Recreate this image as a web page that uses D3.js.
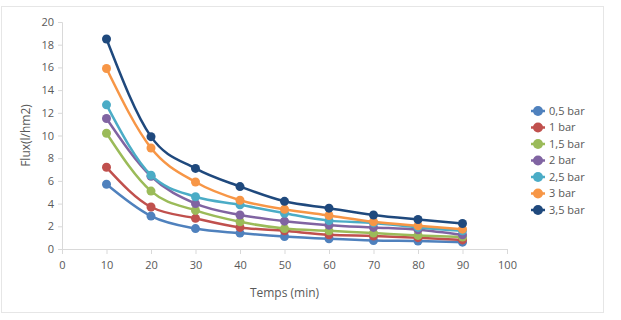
<!DOCTYPE html>
<html>
<head>
<meta charset="utf-8">
<script src="https://cdn.jsdelivr.net/npm/d3@7"></script>
<style>
  body { margin: 0; background: #fff; }
  text { font-family: "Open Sans", "DejaVu Sans", sans-serif; }
</style>
</head>
<body>
<div id="chart"></div>
<script>
var w = 621;
var h = 320;

var margin = { top: 22, bottom: 71, left: 62, right: 114 };
var width = w - margin.left - margin.right;
var height = h - margin.top - margin.bottom;

// temps (min)
var temps = [10, 20, 30, 40, 50, 60, 70, 80, 90];

var seriesNames = ["0,5 bar", "1 bar", "1,5 bar", "2 bar", "2,5 bar", "3 bar", "3,5 bar"];
var colors = ["#4F81BD", "#C0504D", "#9BBB59", "#8064A2", "#4BACC6", "#F79646", "#1F497D"];

var flux05 = [5.7, 2.9, 1.8, 1.4, 1.1, 0.9, 0.75, 0.7, 0.6];
var flux1  = [7.2, 3.7, 2.7, 1.9, 1.6, 1.25, 1.15, 1.0, 0.8];
var flux15 = [10.2, 5.1, 3.4, 2.4, 1.8, 1.6, 1.4, 1.2, 1.05];
var flux2  = [11.5, 6.4, 4.0, 3.0, 2.45, 2.1, 1.9, 1.7, 1.25];
var flux25 = [12.7, 6.5, 4.6, 3.9, 3.15, 2.5, 2.3, 1.9, 1.6];
var flux3  = [15.9, 8.9, 5.9, 4.3, 3.5, 2.95, 2.4, 2.05, 1.75];
var flux35 = [18.5, 9.9, 7.1, 5.5, 4.2, 3.6, 3.0, 2.6, 2.25];

var xTicks = [0, 10, 20, 30, 40, 50, 60, 70, 80, 90, 100];
var yTicks = [0, 2, 4, 6, 8, 10, 12, 14, 16, 18, 20];

var allFlux = [flux05, flux1, flux15, flux2, flux25, flux3, flux35];
var series = seriesNames.map(function (name, i) {
  return {
    name: name,
    color: colors[i],
    values: temps.map(function (t, j) { return { t: t, v: allFlux[i][j] }; })
  };
});

var x = d3.scaleLinear().domain([0, 100]).range([0, width]);
var y = d3.scaleLinear().domain([0, 20]).range([height, 0]);

var svg = d3.select("#chart").append("svg")
  .attr("width", w)
  .attr("height", h);

// outer chart frame
svg.append("rect")
  .attr("x", 1.5).attr("y", 6.5)
  .attr("width", 602).attr("height", 306)
  .attr("fill", "#fff")
  .attr("stroke", "#e6e6e6");

var chart = svg.append("g").attr("transform", "translate(" + margin.left + "," + margin.top + ")");

var yAxis = chart.append("g")
  .call(d3.axisLeft(y).tickValues(yTicks).tickSize(4).tickPadding(4));
var xAxis = chart.append("g")
  .attr("transform", "translate(0," + height + ")")
  .call(d3.axisBottom(x).tickValues(xTicks).tickSize(5).tickPadding(7));

[xAxis, yAxis].forEach(function (a) {
  a.select(".domain").attr("stroke", "#d9d9d9");
  a.selectAll(".tick line").attr("stroke", "#d9d9d9");
  a.selectAll(".tick text")
    .attr("fill", "#595959")
    .style("font-size", "11px")
    .style("font-family", "'Open Sans', sans-serif");
});

var line = d3.line()
  .curve(d3.curveMonotoneX)
  .x(function (d) { return x(d.t); })
  .y(function (d) { return y(d.v); });

var g = chart.selectAll(".serie")
  .data(series)
  .join("g")
  .attr("class", "serie");

g.append("path")
  .attr("d", function (d) { return line(d.values); })
  .attr("fill", "none")
  .attr("stroke", function (d) { return d.color; })
  .attr("stroke-width", 2.5);

g.selectAll("circle")
  .data(function (d) { return d.values.map(function (v) { v.color = d.color; return v; }); })
  .join("circle")
  .attr("cx", function (d) { return x(d.t); })
  .attr("cy", function (d) { return y(d.v); })
  .attr("r", 4.5)
  .attr("fill", function (d) { return d.color; });

// axis titles
svg.append("text")
  .attr("transform", "translate(30," + (margin.top + height / 2) + ") rotate(-90)")
  .attr("text-anchor", "middle")
  .attr("fill", "#595959")
  .style("font-size", "12px")
  .text("Flux(l/hm2)");

svg.append("text")
  .attr("x", margin.left + x(50))
  .attr("y", 297)
  .attr("text-anchor", "middle")
  .attr("fill", "#595959")
  .style("font-size", "12px")
  .text("Temps (min)");

// legend
var legend = svg.append("g").attr("transform", "translate(531,111)");
var item = legend.selectAll("g")
  .data(series)
  .join("g")
  .attr("transform", function (d, i) { return "translate(0," + (i * 16.5) + ")"; });

item.append("line")
  .attr("x1", 0).attr("x2", 14)
  .attr("stroke", function (d) { return d.color; })
  .attr("stroke-width", 2.5);
item.append("circle")
  .attr("cx", 7).attr("r", 5)
  .attr("fill", function (d) { return d.color; });
item.append("text")
  .attr("x", 18).attr("dy", "0.35em")
  .attr("fill", "#595959")
  .style("font-size", "11px")
  .text(function (d) { return d.name; });
</script>
</body>
</html>
